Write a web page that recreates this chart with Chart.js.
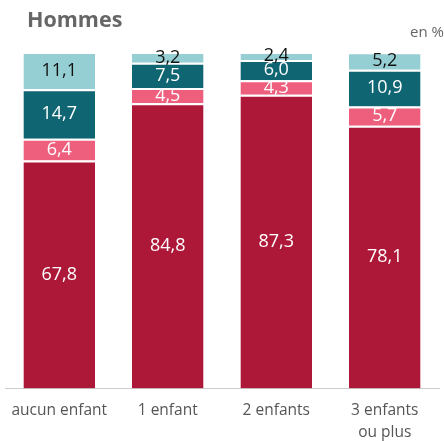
<!DOCTYPE html>
<html>
<head>
<meta charset="utf-8">
<script src="https://cdn.jsdelivr.net/npm/chart.js@4"></script>
<style>
  html, body { margin: 0; padding: 0; background: #fff; }
  #wrap { position: relative; width: 444px; height: 441px; font-family: "Open Sans", sans-serif; }
  #title { position: absolute; left: 27px; top: 4px; font-size: 21.5px; font-weight: bold; color: #666; }
  #unit { position: absolute; right: 0; top: 21px; font-size: 15px; color: #666; }
  canvas { position: absolute; left: 0; top: 0; }
</style>
</head>
<body>
<div id="wrap">
  <canvas id="chart" width="444" height="441"></canvas>
  <div id="title">Hommes</div>
  <div id="unit">en %</div>
</div>
<script>
const categories = ["aucun enfant", "1 enfant", "2 enfants", ["3 enfants", "ou plus"]];
const seriesA = [67.8, 84.8, 87.3, 78.1];
const seriesB = [6.4, 4.5, 4.3, 5.7];
const seriesC = [14.7, 7.5, 6.0, 10.9];
const seriesD = [11.1, 3.2, 2.4, 5.2];

const colors = ["#AD1839", "#EE5F7E", "#0F6572", "#96CFD3"];
const labelColors = ["#fff", "#fff", "#fff", "#111"];

// writes each value in the middle of its segment
const segmentLabels = {
  id: "segmentLabels",
  afterDatasetsDraw(chart) {
    const { ctx } = chart;
    ctx.save();
    ctx.font = "18px 'Open Sans'";
    ctx.textAlign = "center";
    ctx.textBaseline = "middle";
    chart.data.datasets.forEach((ds, i) => {
      chart.getDatasetMeta(i).data.forEach((bar, j) => {
        const mid = (bar.y + bar.base) / 2;
        ctx.fillStyle = labelColors[i];
        ctx.fillText(ds.data[j].toFixed(1).replace(".", ","), bar.x, mid);
      });
    });
    ctx.restore();
  },
};

const makeSet = (data, i) => ({
  data,
  backgroundColor: colors[i],
  borderColor: "#fff",
  borderWidth: { top: 2 },
  borderSkipped: false,
  barPercentage: 0.66,
  categoryPercentage: 1,
});

new Chart(document.getElementById("chart"), {
  type: "bar",
  data: {
    labels: categories,
    datasets: [seriesA, seriesB, seriesC, seriesD].map(makeSet),
  },
  options: {
    responsive: false,
    animation: false,
    layout: { padding: { top: 52, left: 5, right: 5, bottom: -5 } },
    plugins: { legend: { display: false }, tooltip: { enabled: false } },
    scales: {
      x: {
        stacked: true,
        grid: { display: false },
        border: { color: "#ccc", width: 1 },
        ticks: { color: "#555", font: { family: "Open Sans", size: 15.5, lineHeight: 1.4 }, padding: 3 },
      },
      y: { stacked: true, display: false, min: 0, max: 100 },
    },
  },
  plugins: [segmentLabels],
});
</script>
</body>
</html>
